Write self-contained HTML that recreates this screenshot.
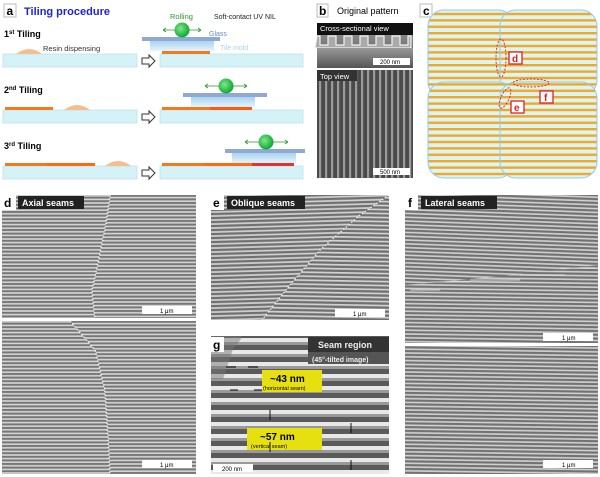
<!DOCTYPE html>
<html><head><meta charset="utf-8"><style>
body{margin:0;background:#fff;}
svg{display:block;font-family:"Liberation Sans",Arial,sans-serif;}
</style></head><body>
<svg width="600" height="477" viewBox="0 0 600 477" xmlns="http://www.w3.org/2000/svg">
<defs>
<pattern id="semA" width="10" height="3.6" patternUnits="userSpaceOnUse"><rect width="10" height="3.6" fill="#767676"/><rect y="0.6" width="10" height="1.6" fill="#d6d6d6"/></pattern>
<pattern id="semB" width="10" height="3.6" patternUnits="userSpaceOnUse" y="1.8"><rect width="10" height="3.6" fill="#767676"/><rect y="0.6" width="10" height="1.6" fill="#d6d6d6"/></pattern>
<pattern id="semE1" width="10" height="4" patternUnits="userSpaceOnUse" patternTransform="rotate(-1.5)"><rect width="10" height="4" fill="#707070"/><rect y="0.7" width="10" height="1.7" fill="#d2d2d2"/></pattern>
<pattern id="semE2" width="10" height="4" patternUnits="userSpaceOnUse" patternTransform="rotate(1)"><rect width="10" height="4" fill="#707070"/><rect y="2" width="10" height="1.7" fill="#d2d2d2"/></pattern>
<pattern id="semF" width="10" height="3.8" patternUnits="userSpaceOnUse" patternTransform="rotate(2)"><rect width="10" height="3.8" fill="#727272"/><rect y="0.7" width="10" height="1.6" fill="#d2d2d2"/></pattern>
<pattern id="semF2" width="10" height="3.8" patternUnits="userSpaceOnUse" patternTransform="rotate(0.8)"><rect width="10" height="3.8" fill="#727272"/><rect y="0.7" width="10" height="1.6" fill="#d2d2d2"/></pattern>
<pattern id="semV" width="6" height="10" patternUnits="userSpaceOnUse"><rect width="6" height="10" fill="#4a4a4a"/><rect x="1" width="2.2" height="10" fill="#9a9a9a"/></pattern>
<pattern id="semG" width="10" height="12" patternUnits="userSpaceOnUse" y="338"><rect width="10" height="12" fill="#5a5a5a"/><rect y="0" width="10" height="4" fill="#e8e8e8"/><rect y="4" width="10" height="3" fill="#999"/></pattern>
<pattern id="stripes" width="10" height="6.4" patternUnits="userSpaceOnUse"><rect width="10" height="6.4" fill="#d9f5f6"/><rect y="0" width="10" height="2.4" fill="#f5a623"/></pattern>
<radialGradient id="ball" cx="0.4" cy="0.4" r="0.6"><stop offset="0" stop-color="#7fe88a"/><stop offset="1" stop-color="#10a830"/></radialGradient>
<linearGradient id="mold" x1="0" y1="0" x2="0" y2="1"><stop offset="0" stop-color="#a9d3ef"/><stop offset="1" stop-color="#e6f4fc"/></linearGradient>
<linearGradient id="xs" x1="0" y1="0" x2="0" y2="1"><stop offset="0" stop-color="#999"/><stop offset="1" stop-color="#555"/></linearGradient>
<clipPath id="cd1"><rect x="2" y="195" width="194" height="123"/></clipPath>
<clipPath id="cd2"><rect x="2" y="321" width="194" height="153"/></clipPath>
</defs>

<!-- Panel a -->
<rect x="4" y="4" width="12" height="13" fill="#fff" stroke="#bbb"/>
<text x="6.5" y="15" font-size="12" font-weight="bold">a</text>
<text x="24" y="15" font-size="11" font-weight="bold" fill="#2222cc">Tiling procedure</text>
<text x="4" y="37" font-size="9" font-weight="bold">1<tspan font-size="6" dy="-3">st</tspan><tspan dy="3"> Tiling</tspan></text>
<text x="4" y="93" font-size="9" font-weight="bold">2<tspan font-size="6" dy="-3">nd</tspan><tspan dy="3"> Tiling</tspan></text>
<text x="4" y="149" font-size="9" font-weight="bold">3<tspan font-size="6" dy="-3">rd</tspan><tspan dy="3"> Tiling</tspan></text>
<text x="43" y="51" font-size="7.5" fill="#333">Resin dispensing</text>
<text x="170" y="19" font-size="7.5" fill="#2a9a2a">Rolling</text>
<text x="214" y="19" font-size="7" fill="#222">Soft-contact UV NIL</text>
<text x="209" y="36" font-size="7" fill="#6a8ad0">Glass</text>
<text x="220" y="50" font-size="7" fill="#a8d4f0">Tile mold</text>
<g fill="#d5f3f6" stroke="#a8dde6" stroke-width="0.6">
<rect x="3" y="54" width="134" height="13"/><rect x="160" y="54" width="143" height="13"/>
<rect x="3" y="110" width="134" height="13"/><rect x="160" y="110" width="143" height="13"/>
<rect x="3" y="166" width="134" height="13"/><rect x="160" y="166" width="143" height="13"/>
</g>
<g fill="#f5be90"><path d="M16 54 Q29 44 42 54Z"/><path d="M64 110 Q77 100 90 110Z"/><path d="M105 166 Q118 156 131 166Z"/></g>
<g fill="#f07a20">
<rect x="162" y="51" width="48" height="3"/>
<rect x="5" y="107" width="48" height="3"/><rect x="162" y="107" width="48" height="3"/><rect x="210" y="107" width="42" height="3" fill="#ff5a10"/>
<rect x="5" y="163" width="42" height="3"/><rect x="47" y="163" width="48" height="3" fill="#ff6a10"/><rect x="162" y="163" width="42" height="3"/><rect x="204" y="163" width="48" height="3" fill="#ff6a10"/><rect x="252" y="163" width="42" height="3" fill="#e83030"/>
</g>
<g fill="#fff" stroke="#333" stroke-width="1"><path d="M142 58h7v-3l6 6-6 6v-3h-7z"/><path d="M142 114h7v-3l6 6-6 6v-3h-7z"/><path d="M142 170h7v-3l6 6-6 6v-3h-7z"/></g>
<g>
<rect x="150" y="41" width="64" height="10" fill="url(#mold)"/><rect x="142" y="37" width="78" height="4" fill="#8ea8d8"/>
<rect x="191" y="97" width="64" height="10" fill="url(#mold)"/><rect x="183" y="93" width="84" height="4" fill="#8ea8d8"/>
<rect x="232" y="153" width="64" height="10" fill="url(#mold)"/><rect x="225" y="149" width="80" height="4" fill="#8ea8d8"/>
</g>
<g stroke="#2a9a2a" stroke-width="0.8" fill="none"><path d="M163 30h38M163 30l3-2M163 30l3 2M201 30l-3-2M201 30l-3 2"/><path d="M205 86h42M205 86l3-2M205 86l3 2M247 86l-3-2M247 86l-3 2"/><path d="M245 142h43M245 142l3-2M245 142l3 2M288 142l-3-2M288 142l-3 2"/></g>
<circle cx="182" cy="30" r="7.5" fill="url(#ball)"/><circle cx="226" cy="86" r="7.5" fill="url(#ball)"/><circle cx="266" cy="142" r="7.5" fill="url(#ball)"/>

<!-- Panel b -->
<rect x="317" y="4" width="11" height="13" fill="#fff" stroke="#bbb"/>
<text x="319" y="15" font-size="12" font-weight="bold">b</text>
<text x="337" y="14" font-size="9">Original pattern</text>
<rect x="317" y="23" width="96" height="45" fill="url(#xs)"/>
<rect x="317" y="23" width="96" height="12" fill="#111"/>
<path d="M317 36 h3 v9 h8 v-9 h8 v9 h8 v-9 h8 v9 h8 v-9 h8 v9 h8 v-9 h8 v9 h8 v-9 h8 v9 h8 v-9 h3 v12 h-96z" fill="#aaa" stroke="#f2f2f2" stroke-width="1.2"/>
<rect x="317" y="48" width="96" height="20" fill="url(#xs)"/>
<text x="320" y="31" font-size="7.5" fill="#fff">Cross-sectional view</text>
<rect x="373" y="58" width="37" height="7" fill="#fff"/><text x="380" y="64" font-size="6">200 nm</text>
<rect x="317" y="70" width="96" height="108" fill="url(#semV)"/>
<rect x="317" y="70" width="40" height="11" fill="#333"/>
<text x="320" y="79" font-size="7.5" fill="#fff">Top view</text>
<rect x="373" y="168" width="37" height="7" fill="#fff"/><text x="380" y="174" font-size="6">500 nm</text>

<!-- Panel c -->
<rect x="420" y="4" width="12" height="13" fill="#fff" stroke="#bbb"/>
<text x="423" y="15" font-size="12" font-weight="bold">c</text>
<g stroke="#8ccdee" stroke-width="1" fill="url(#stripes)">
<rect x="428" y="10" width="86" height="88" rx="16"/>
<rect x="500" y="10" width="97" height="86" rx="16"/>
<rect x="428" y="82" width="86" height="96" rx="16"/>
<rect x="500" y="82" width="97" height="96" rx="16"/>
</g>
<g fill="none" stroke="#e02020" stroke-width="0.9" stroke-dasharray="2,1.5">
<ellipse cx="501" cy="58" rx="5" ry="19"/>
<ellipse cx="531" cy="83" rx="18" ry="4"/>
<ellipse cx="505" cy="98" rx="4" ry="11" transform="rotate(25 505 98)"/>
</g>
<g fill="#fff" stroke="#e02020" stroke-width="1.3">
<rect x="509" y="52" width="13" height="12"/><rect x="540" y="91" width="13" height="12"/><rect x="511" y="101" width="13" height="12"/>
</g>
<g font-size="10" font-weight="bold" fill="#e02020"><text x="512" y="62">d</text><text x="544" y="101">f</text><text x="514" y="111">e</text></g>

<!-- Panel d -->
<g clip-path="url(#cd1)">
<rect x="2" y="195" width="194" height="123" fill="url(#semA)"/>
<path d="M110 195 L105 230 L92 290 L95 318 L196 318 L196 195Z" fill="url(#semB)"/>
<path d="M110 195 L105 230 L92 290 L95 318" fill="none" stroke="#f0f0f0" stroke-width="1.5" stroke-dasharray="1.5,2"/>
</g>
<g clip-path="url(#cd2)">
<rect x="2" y="321" width="194" height="153" fill="url(#semA)"/>
<path d="M70 321 L95 350 L105 390 L110 474 L196 474 L196 321Z" fill="url(#semB)"/>
<path d="M70 321 L95 350 L105 390 L110 474" fill="none" stroke="#f0f0f0" stroke-width="1.5" stroke-dasharray="1.5,2"/>
</g>
<rect x="2" y="195" width="14" height="15" fill="#fff"/><text x="4" y="207" font-size="12" font-weight="bold">d</text>
<rect x="18" y="196" width="66" height="13" fill="#222"/><text x="22" y="206" font-size="9" font-weight="bold" fill="#fff">Axial seams</text>
<rect x="142" y="306" width="50" height="8" fill="#fff"/><text x="160" y="313" font-size="6">1 μm</text>
<rect x="142" y="460" width="50" height="8" fill="#fff"/><text x="160" y="467" font-size="6">1 μm</text>

<!-- Panel e -->
<rect x="211" y="195" width="178" height="125" fill="url(#semE1)"/>
<path d="M389 195 L360 215 L320 250 L290 285 L262 320 L389 320Z" fill="url(#semE2)"/>
<path d="M389 195 L360 215 L320 250 L290 285 L262 320" fill="none" stroke="#eee" stroke-width="1.3" stroke-dasharray="1.5,2"/>
<rect x="211" y="195" width="13" height="15" fill="#fff"/><text x="213" y="207" font-size="12" font-weight="bold">e</text>
<rect x="227" y="196" width="78" height="13" fill="#222"/><text x="231" y="206" font-size="9" font-weight="bold" fill="#fff">Oblique seams</text>
<rect x="335" y="309" width="50" height="8" fill="#fff"/><text x="353" y="316" font-size="6">1 μm</text>

<!-- Panel g -->
<rect x="211" y="336" width="178" height="138" fill="url(#semG)"/>
<path d="M211 336 h30 v3 l-8 10 l-10 30 h-12z" fill="#777" opacity="0.5"/>
<rect x="211" y="337" width="13" height="15" fill="#fff"/><text x="213" y="349" font-size="12" font-weight="bold">g</text>
<rect x="308" y="337" width="81" height="15" fill="#333"/><text x="318" y="348" font-size="9" font-weight="bold" fill="#eee">Seam region</text>
<rect x="308" y="352" width="81" height="12" fill="#555"/><text x="312" y="362" font-size="7" font-weight="bold" fill="#eee">(45°-tilted image)</text>
<rect x="262" y="370" width="60" height="22" fill="#e6e010"/>
<text x="270" y="382" font-size="10" font-weight="bold">~43 nm</text><text x="263" y="390" font-size="5.5">(horizontal seam)</text>
<rect x="247" y="428" width="75" height="22" fill="#e6e010"/>
<text x="260" y="440" font-size="10" font-weight="bold">~57 nm</text><text x="251" y="448" font-size="5.5">(vertical seam)</text>
<g stroke="#000" stroke-width="0.9" fill="none"><path d="M226 367h10M258 367h-10M230 390h8M262 390h-8M270 410v10M270 452v-10M351 423v10M351 470v-10"/></g>
<rect x="213" y="464" width="40" height="8" fill="#fff"/><text x="222" y="471" font-size="6">200 nm</text>

<!-- Panel f -->
<rect x="405" y="195" width="193" height="148" fill="url(#semF)"/>
<path d="M405 285 L460 280 L560 270 L598 265 L598 343 L405 343Z" fill="url(#semF2)"/>
<g stroke="#eee" stroke-width="0.8" fill="none"><path d="M410 290h30M430 282h40M470 280h50M520 275h45M560 268h35"/></g>
<rect x="405" y="343" width="193" height="3" fill="#fff"/>
<rect x="405" y="346" width="193" height="128" fill="url(#semF2)"/>
<rect x="405" y="195" width="13" height="15" fill="#fff"/><text x="408" y="207" font-size="12" font-weight="bold">f</text>
<rect x="421" y="196" width="76" height="13" fill="#222"/><text x="425" y="206" font-size="9" font-weight="bold" fill="#fff">Lateral seams</text>
<rect x="543" y="333" width="50" height="8" fill="#fff"/><text x="562" y="340" font-size="6">1 μm</text>
<rect x="543" y="460" width="50" height="8" fill="#fff"/><text x="562" y="467" font-size="6">1 μm</text>
</svg>
</body></html>
